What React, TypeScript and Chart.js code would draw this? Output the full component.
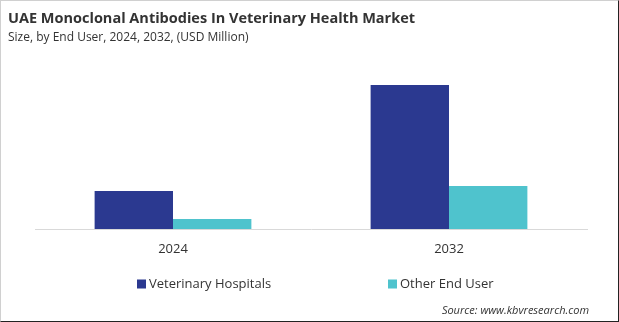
import React, { useEffect, useRef } from "react";
import { Chart, registerables } from "chart.js";

Chart.register(...registerables);

const categories = ["2024", "2032"];
const veterinaryHospitals = [3.8, 14.4];
const otherEndUser = [1.0, 4.3];
const seriesNames = ["Veterinary Hospitals", "Other End User"];
const seriesColors = ["#2B3990", "#4FC3CD"];

const FONT = "'Open Sans', 'Noto Sans', sans-serif";

const customLegend = {
  id: "customLegend",
  afterDraw(chart: any) {
    const ctx = chart.ctx;
    const xs = [136, 387];
    const y = 283;
    ctx.save();
    ctx.font = `13px ${FONT}`;
    ctx.textBaseline = "middle";
    chart.data.datasets.forEach((ds: any, i: number) => {
      ctx.fillStyle = ds.backgroundColor;
      ctx.fillRect(xs[i], y - 4.5, 9, 9);
      ctx.fillStyle = "#333333";
      ctx.fillText(ds.label, xs[i] + 12, y);
    });
    ctx.restore();
  },
};

export default function App() {
  const ref = useRef<HTMLCanvasElement>(null);
  useEffect(() => {
    const chart = new Chart(ref.current!, {
      type: "bar",
      data: {
        labels: categories,
        datasets: [
          {
            label: seriesNames[0],
            data: veterinaryHospitals,
            backgroundColor: seriesColors[0],
            categoryPercentage: 0.568,
            barPercentage: 1,
          },
          {
            label: seriesNames[1],
            data: otherEndUser,
            backgroundColor: seriesColors[1],
            categoryPercentage: 0.568,
            barPercentage: 1,
          },
        ],
      },
      options: {
        animation: false,
        responsive: false,
        maintainAspectRatio: false,
        layout: { padding: { left: 34, right: 31, top: 60, bottom: 52 } },
        plugins: {
          legend: { display: false },
          title: { display: false },
          tooltip: { enabled: false },
        },
        scales: {
          x: {
            afterFit: (scale: any) => {
              scale.height = 40;
            },
            grid: { display: false, drawTicks: false },
            border: { display: true, color: "#d9d9d9", width: 1 },
            ticks: {
              color: "#333333",
              font: { family: FONT, size: 13 },
              padding: 12,
            },
          },
          y: { display: false, min: 0, max: 16.8 },
        },
      },
      plugins: [customLegend],
    });
    return () => chart.destroy();
  }, []);

  return (
    <div
      style={{
        position: "absolute",
        left: 0,
        top: 0,
        width: 619,
        height: 322,
        boxSizing: "border-box",
        borderTop: "1px solid #d0d0d0",
        borderLeft: "1px solid #d0d0d0",
        borderRight: "1px solid #222",
        borderBottom: "1px solid #222",
        background: "#fff",
        fontFamily: FONT,
        overflow: "hidden",
      }}
    >
      <canvas
        ref={ref}
        width={617}
        height={320}
        style={{ position: "absolute", left: 0, top: 0, width: 617, height: 320 }}
      />
      <div
        style={{
          position: "absolute",
          left: 7,
          top: 7,
          fontSize: 14.5,
          fontWeight: 700,
          color: "#333333",
          whiteSpace: "nowrap",
          lineHeight: "20px",
        }}
      >
        UAE Monoclonal Antibodies In Veterinary Health Market
      </div>
      <div
        style={{
          position: "absolute",
          left: 7,
          top: 28,
          fontSize: 12,
          color: "#333333",
          whiteSpace: "nowrap",
          lineHeight: "16px",
        }}
      >
        Size, by End User, 2024, 2032, (USD Million)
      </div>
      <div
        style={{
          position: "absolute",
          right: 29,
          top: 301,
          fontSize: 11,
          fontStyle: "italic",
          color: "#333333",
          whiteSpace: "nowrap",
          lineHeight: "16px",
        }}
      >
        Source: www.kbvresearch.com
      </div>
    </div>
  );
}
